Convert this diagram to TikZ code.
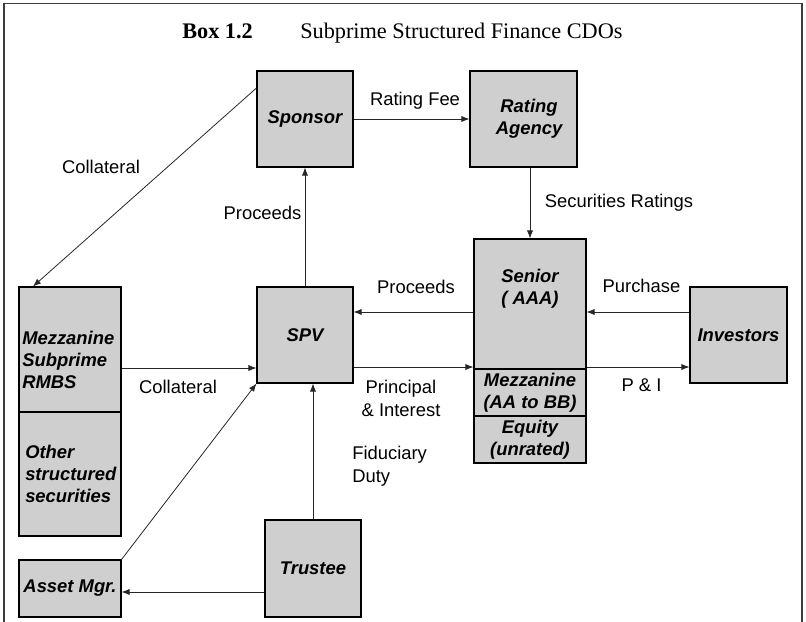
\documentclass[tikz,border=0pt]{standalone}
\usepackage{fontspec}
\setmainfont{Liberation Sans}
\newfontfamily\titlefont{Liberation Serif}
\usetikzlibrary{arrows.meta}
\definecolor{boxgray}{RGB}{207,207,207}
\definecolor{framegray}{RGB}{60,60,60}
\begin{document}
\begin{tikzpicture}[x=0.75pt,y=-0.75pt,
  box/.style 2 args={draw=black, line width=0.8pt, fill=boxgray, inner sep=0pt,
     minimum width=#1*0.75pt, minimum height=#2*0.75pt, align=center,
     font=\fontsize{13.8}{16.5}\selectfont\bfseries\itshape},
  btext/.style={inner sep=0pt, font=\fontsize{13.8}{16.5}\selectfont\bfseries\itshape},
  lbl/.style={inner sep=0pt, font=\fontsize{13.8}{17}\selectfont},
  ttl/.style={inner sep=0pt, font=\titlefont\fontsize{16.7}{19}\selectfont},
  conn/.style={draw=black!85, line width=0.6pt, -{Latex[length=6pt,width=4.6pt]}}]
\useasboundingbox (0,0) rectangle (806,621);
\draw[framegray, line width=1pt] (4,625) -- (4,3.5) -- (802,3.5) -- (802,625);
% title
\node[ttl, anchor=base west] (t1) at (182,38) {\bfseries Box 1.2};
\node[ttl, anchor=base west] (t2) at (300,38) {Subprime Structured Finance CDOs};
% boxes
\node[box={96}{96}] (sponsor) at (305,119) {Sponsor};
\node[box={107}{96}] (rating) at (523.5,119) {};
\node[btext, align=center] (ratingt) at (529,119) {Rating\\Agency};
\node[box={112}{130}] (senior) at (530,304) {};
\node[btext, align=center] (seniort) at (530,289) {Senior\\( AAA)};
\node[box={112}{47}] (mezz) at (530,392.5) {Mezzanine\\(AA to BB)};
\node[box={112}{47}] (equity) at (530,439.5) {Equity\\(unrated)};
\node[box={97}{96}] (investors) at (738.5,335) {Investors};
\node[box={96}{96}] (spv) at (305,335) {SPV};
\node[box={102}{125}] (rmbs) at (70,349.5) {};
\node[btext, anchor=west, align=left] (rmbst) at (22,360) {Mezzanine\\Subprime\\RMBS};
\node[box={102}{124}] (other) at (70,474) {};
\node[btext, anchor=west, align=left] (othert) at (25,474) {Other\\structured\\securities};
\node[box={102}{57}] (asset) at (70,588.5) {Asset Mgr.};
\node[box={96}{97}] (trustee) at (313,568.5) {Trustee};
% helper coordinates
\coordinate (pu) at (0,312);
\coordinate (pi) at (0,367);
\coordinate (cl) at (0,368);
\coordinate (tr) at (0,592);
% connectors
\draw[conn] (sponsor.east) -- (rating.west);
\draw[conn] (senior.north |- rating.south) -- (senior.north);
\draw[conn] (investors.west |- pu) -- (senior.east |- pu);
\draw[conn] (senior.east |- pi) -- (investors.west |- pi);
\draw[conn] (senior.west |- pu) -- (spv.east |- pu);
\draw[conn] (spv.east |- pi) -- (senior.west |- pi);
\draw[conn] (spv.north) -- (sponsor.south);
\draw[conn] ([yshift=23.25pt]sponsor.west) -- ([xshift=-27.75pt]rmbs.north);
\draw[conn] (rmbs.east |- cl) -- (spv.west |- cl);
\draw[conn] (asset.north east) -- (spv.south west);
\draw[conn] (trustee.west |- tr) -- (asset.east |- tr);
\draw[conn] (trustee.north) -- (trustee.north |- spv.south);
% labels
\node[lbl] (l1) at (415,101) {Rating Fee};
\node[lbl] (l2) at (101,167) {Collateral};
\node[lbl] (l3) at (262.5,213) {Proceeds};
\node[lbl] (l4) at (619,203) {Securities Ratings};
\node[lbl] (l5) at (416,287) {Proceeds};
\node[lbl] (l6) at (641.5,286) {Purchase};
\node[lbl] (l7) at (641.5,385) {P \& I};
\node[lbl] (l8) at (178,387) {Collateral};
\node[lbl, align=center] (l9) at (401,398.5) {Principal\\\& Interest};
\node[lbl, align=left, anchor=west] (l10) at (352,466.5) {Fiduciary\\Duty};
\end{tikzpicture}
\end{document}
